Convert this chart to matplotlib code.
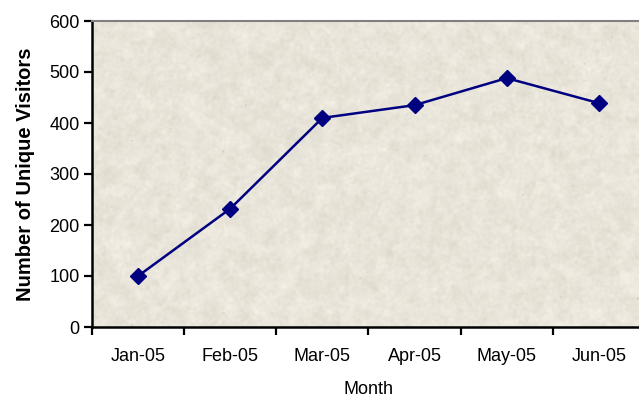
import numpy as np
import matplotlib
matplotlib.use("Agg")
import matplotlib.pyplot as plt
from numpy.fft import fft2, ifft2

months = ["Jan-05", "Feb-05", "Mar-05", "Apr-05", "May-05", "Jun-05"]
visitors = [100, 232, 410, 435, 488, 439]
y_ticks = [0, 100, 200, 300, 400, 500, 600]

plt.rcParams["font.family"] = ["Liberation Sans", "DejaVu Sans"]

fig = plt.figure(figsize=(6.39, 3.97), dpi=100)
fig.patch.set_facecolor("white")
ax = fig.add_axes([92 / 639, 70 / 397, 553 / 639, 306 / 397])


def soft_noise(rng, h, w, sigma):
    n = rng.normal(0, 1, (h, w))
    ky = np.fft.fftfreq(h)[:, None]
    kx = np.fft.fftfreq(w)[None, :]
    g = np.exp(-((kx ** 2 + ky ** 2) * (2 * np.pi * sigma) ** 2) / 2)
    s = np.real(ifft2(fft2(n) * g))
    return s / s.std()


# parchment-style textured background
rng = np.random.default_rng(11)
h, w = 306, 553
base = np.array([234, 229, 218]) / 255.0
tex_val = 0.009 * soft_noise(rng, h, w, 1.2) + 0.009 * soft_noise(rng, h, w, 4.0)
spots = soft_noise(rng, h, w, 1.0)
tex_val -= 0.05 * np.clip(spots - 2.6, 0, None)
tex = np.clip(base[None, None, :] + tex_val[..., None] * np.array([1.0, 1.0, 1.1]), 0, 1)
ax.imshow(tex, extent=[-0.5, len(months) - 0.5, 0, 600], aspect="auto",
          zorder=0, interpolation="bilinear")

x = np.arange(len(months))
ax.plot(x, visitors, color="#000080", lw=1.8, marker="D", ms=8,
        markerfacecolor="#000080", markeredgecolor="#000080", zorder=3)

ax.set_xlim(-0.5, len(months) - 0.5)
ax.set_ylim(0, 600)
ax.set_yticks(y_ticks)
ax.set_yticklabels([str(v) for v in y_ticks], fontsize=13)
ax.set_xticks(x)
ax.set_xticklabels(months, fontsize=13)
ax.set_xticks(np.arange(len(months) + 1) - 0.5, minor=True)
ax.tick_params(axis="x", which="major", length=0, pad=15)
ax.tick_params(axis="x", which="minor", length=6, width=1.6, direction="out")
ax.tick_params(axis="y", length=6, width=1.6, direction="out", pad=3)

for s in ["left", "bottom"]:
    ax.spines[s].set_linewidth(1.8)
    ax.spines[s].set_color("black")
ax.spines["top"].set_color("#808080")
ax.spines["top"].set_linewidth(1.5)
ax.spines["right"].set_visible(False)

ax.set_xlabel("Month", fontsize=13, labelpad=12)
ax.set_ylabel("Number of Unique Visitors", fontsize=14.5, fontweight="bold", labelpad=10)

fig.savefig("out.png", dpi=100)
